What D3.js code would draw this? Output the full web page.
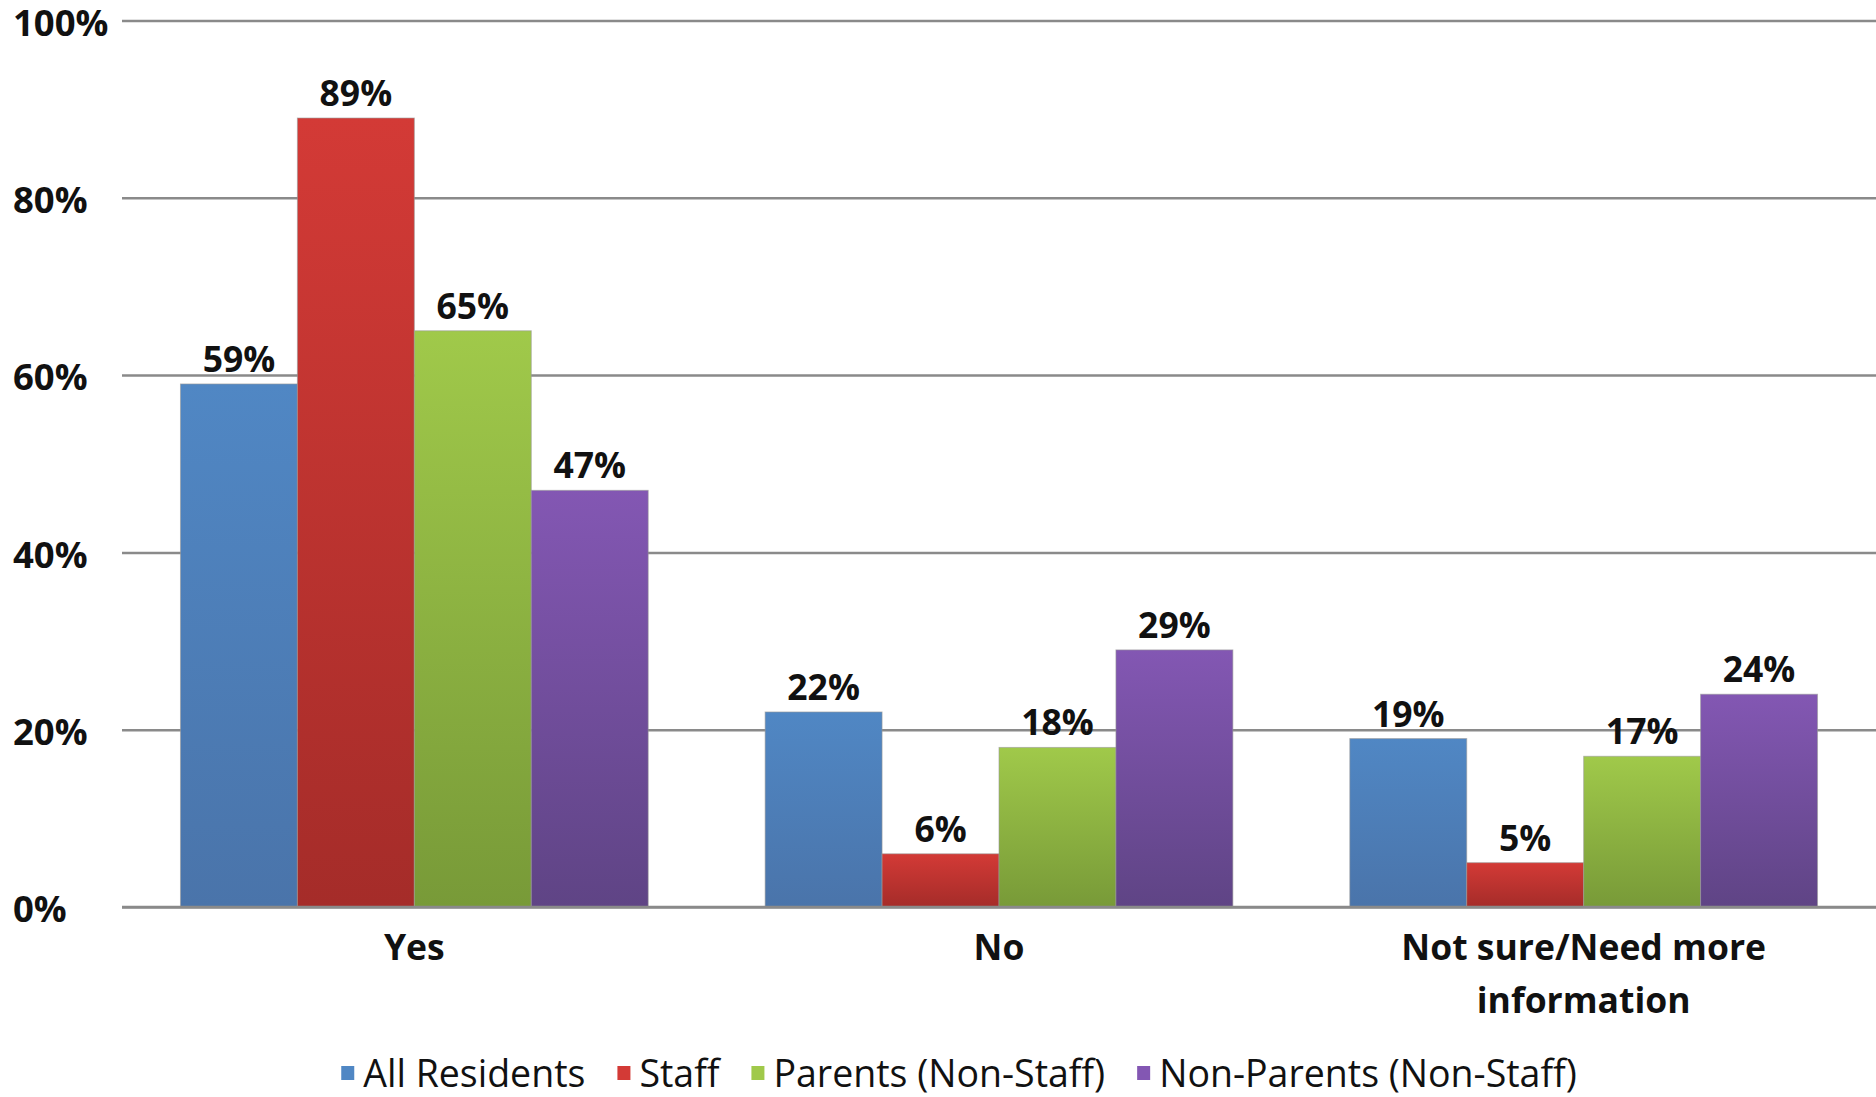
<!DOCTYPE html>
<html>
<head>
<meta charset="utf-8">
<script src="https://cdn.jsdelivr.net/npm/d3@7"></script>
<style>
  body { margin: 0; background: #fff; }
  svg { display: block; }
  text { font-family: "Open Sans", sans-serif; fill: #111; }
</style>
</head>
<body>
<svg id="chart"></svg>
<script>
// survey answers by group, in percent
var categories = ["Yes", "No", "Not sure/Need more information"];
var categoryLines = [["Yes"], ["No"], ["Not sure/Need more", "information"]];
var seriesNames = ["All Residents", "Staff", "Parents (Non-Staff)", "Non-Parents (Non-Staff)"];
var allResidents = [59, 22, 19];
var staff = [89, 6, 5];
var parents = [65, 18, 17];
var nonParents = [47, 29, 24];
var yTicks = [0, 20, 40, 60, 80, 100];

var seriesValues = [allResidents, staff, parents, nonParents];
// top / bottom colours of each bar gradient
var colorsTop = ["#5087c4", "#d33a36", "#a0c94a", "#8357b3"];
var colorsBottom = ["#4a74aa", "#a52c29", "#789a38", "#5f4485"];

var width = 1876,
    height = 1097;

var plot_l = 122,
    plot_r = 1876,
    plot_t = 20.5,
    plot_b = 907;

var svg = d3.select("#chart")
    .attr("width", width)
    .attr("height", height);

var defs = svg.append("defs");
seriesNames.forEach(function(s, i) {
  var grad = defs.append("linearGradient")
      .attr("id", "grad" + i)
      .attr("x1", 0).attr("y1", 0)
      .attr("x2", 0).attr("y2", 1);
  grad.append("stop").attr("offset", "0%").attr("stop-color", colorsTop[i]);
  grad.append("stop").attr("offset", "100%").attr("stop-color", colorsBottom[i]);
});

var x0 = d3.scaleBand()
    .domain(categories)
    .range([plot_l, plot_r])
    .padding(0);

var x1 = d3.scaleBand()
    .domain(seriesNames)
    .range([0, x0.bandwidth()])
    .paddingInner(0)
    .paddingOuter(0.5);

var y = d3.scaleLinear()
    .domain([0, 100])
    .range([plot_b, plot_t]);

// gridlines
var grid = svg.append("g")
    .attr("transform", "translate(" + plot_l + ",0)")
    .call(d3.axisLeft(y).tickValues(yTicks).tickSize(-(plot_r - plot_l)).tickFormat(""));
grid.select(".domain").remove();
grid.selectAll(".tick line")
    .attr("stroke", "#8a8a8a")
    .attr("stroke-width", 2.5);

// y tick labels (left aligned in the original)
var yAxis = svg.append("g")
    .attr("transform", "translate(13,0)")
    .call(d3.axisRight(y).tickValues(yTicks).tickSize(0).tickPadding(0)
      .tickFormat(function(d) { return d + "%"; }));
yAxis.select(".domain").remove();
yAxis.selectAll("text")
    .attr("dy", "0.4em")
    .style("font-size", "36.5px")
    .style("font-weight", "700")
    .style("fill", "#111");

// bars
var rows = categories.map(function(c, ci) {
  return seriesNames.map(function(s, si) {
    return { cat: c, series: s, si: si, value: seriesValues[si][ci] };
  });
});

var groups = svg.selectAll(".group")
  .data(rows)
  .enter().append("g")
    .attr("class", "group")
    .attr("transform", function(d) { return "translate(" + x0(d[0].cat) + ",0)"; });

groups.selectAll("rect")
  .data(function(d) { return d; })
  .enter().append("rect")
    .attr("x", function(d) { return x1(d.series); })
    .attr("y", function(d) { return y(d.value); })
    .attr("width", x1.bandwidth())
    .attr("height", function(d) { return plot_b - y(d.value); })
    .attr("fill", function(d) { return "url(#grad" + d.si + ")"; })
    .attr("stroke", "#9a9a9a")
    .attr("stroke-opacity", 0.6)
    .attr("stroke-width", 1);

groups.selectAll(".val")
  .data(function(d) { return d; })
  .enter().append("text")
    .attr("class", "val")
    .attr("x", function(d) { return x1(d.series) + x1.bandwidth() / 2; })
    .attr("y", function(d) { return y(d.value) - 12; })
    .attr("text-anchor", "middle")
    .style("font-size", "35.5px")
    .style("font-weight", "700")
    .text(function(d) { return d.value + "%"; });

// zero line on top
svg.append("line")
    .attr("x1", plot_l).attr("x2", plot_r)
    .attr("y1", y(0)).attr("y2", y(0))
    .attr("stroke", "#8a8a8a")
    .attr("stroke-width", 2.5);

// category labels
var xAxis = svg.append("g")
    .attr("transform", "translate(0," + plot_b + ")")
    .call(d3.axisBottom(x0).tickSize(0).tickFormat(""));
xAxis.select(".domain").remove();
xAxis.selectAll(".tick").each(function(d, i) {
  var t = d3.select(this).append("text")
      .attr("text-anchor", "middle")
      .attr("y", 53)
      .style("font-size", "35.5px")
      .style("font-weight", "700")
      .style("fill", "#111");
  categoryLines[i].forEach(function(line, li) {
    t.append("tspan")
      .attr("x", 0)
      .attr("dy", li === 0 ? 0 : 52.6)
      .text(line);
  });
});

// legend
var legend = svg.append("g");
var lx = 0;
seriesNames.forEach(function(s, i) {
  var item = legend.append("g").attr("transform", "translate(" + lx + ",0)");
  item.append("rect")
    .attr("x", 0).attr("y", -21)
    .attr("width", 13).attr("height", 14)
    .attr("fill", colorsTop[i]);
  var txt = item.append("text")
    .attr("x", 22)
    .attr("y", 0)
    .style("font-size", "37.5px")
    .text(s);
  lx += 22 + txt.node().getComputedTextLength() + 32;
});
var legend_w = lx - 32;
legend.attr("transform", "translate(" + (959 - legend_w / 2) + ",1087)");
</script>
</body>
</html>
